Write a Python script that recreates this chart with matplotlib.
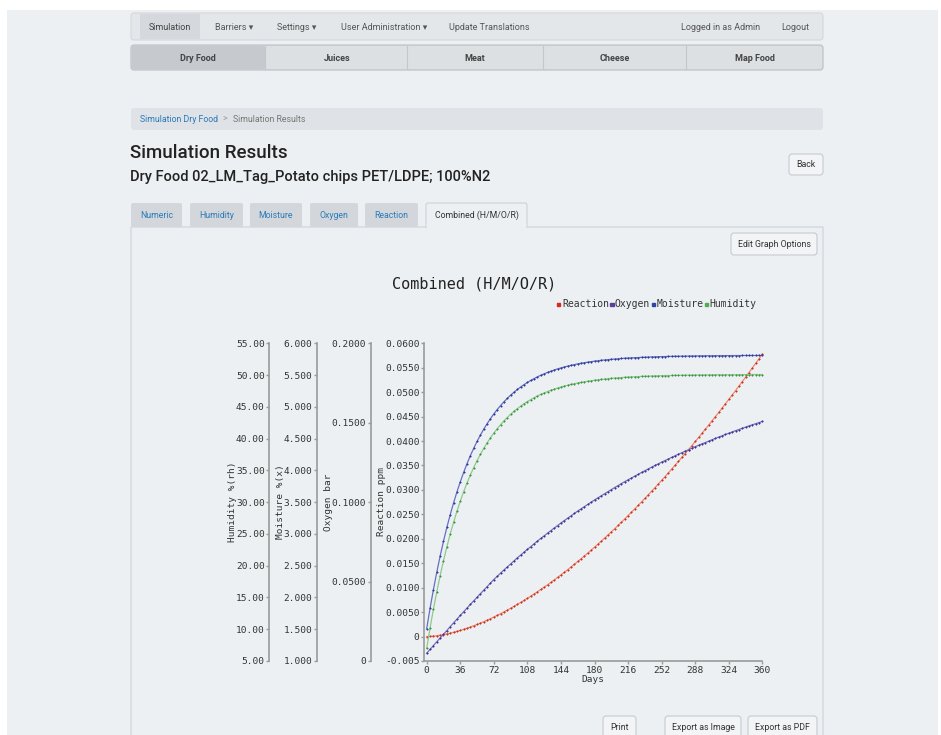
import matplotlib
matplotlib.use("Agg")
import matplotlib.pyplot as plt
from matplotlib.patches import FancyBboxPatch
import numpy as np

# ---- data ----
series_names = ["Reaction", "Oxygen", "Moisture", "Humidity"]

humidity = [7.00, 10.20, 13.16, 15.89, 18.43, 20.78, 22.95, 24.97, 26.83, 28.55,
            30.15, 31.63, 33.00, 34.27, 35.44, 36.53, 37.54, 38.47, 39.33, 40.13,
            40.87, 41.55, 42.19, 42.77, 43.32, 43.82, 44.29, 44.72, 45.12, 45.49,
            45.83, 46.14, 46.44, 46.71, 46.96, 47.19, 47.41, 47.61, 47.79, 47.96,
            48.12, 48.27, 48.40, 48.53, 48.65, 48.75, 48.85, 48.95, 49.03, 49.11,
            49.18, 49.25, 49.32, 49.37, 49.43, 49.48, 49.52, 49.57, 49.61, 49.64,
            49.68, 49.71, 49.74, 49.76, 49.79, 49.81, 49.83, 49.85, 49.87, 49.89,
            49.90, 49.92, 49.93, 49.94, 49.95, 49.96, 49.97, 49.98, 49.99, 49.99,
            50.01, 50.02, 50.02, 50.03, 50.03, 50.04, 50.04, 50.05, 50.05, 50.05,
            50.06, 50.06, 50.06, 50.07, 50.07, 50.07, 50.07, 50.08, 50.08, 50.08, 50.08]

moisture = [1.510, 1.829, 2.124, 2.397, 2.650, 2.885, 3.102, 3.302, 3.488, 3.660,
            3.820, 3.967, 4.104, 4.231, 4.348, 4.456, 4.556, 4.649, 4.735, 4.815,
            4.889, 4.957, 5.020, 5.079, 5.133, 5.183, 5.230, 5.273, 5.313, 5.350,
            5.384, 5.415, 5.445, 5.472, 5.497, 5.520, 5.542, 5.561, 5.580, 5.597,
            5.613, 5.627, 5.641, 5.653, 5.665, 5.676, 5.686, 5.695, 5.703, 5.711,
            5.719, 5.725, 5.732, 5.738, 5.743, 5.748, 5.752, 5.757, 5.761, 5.764,
            5.768, 5.771, 5.774, 5.776, 5.779, 5.781, 5.783, 5.785, 5.787, 5.789,
            5.790, 5.792, 5.793, 5.794, 5.795, 5.796, 5.797, 5.798, 5.799, 5.800,
            5.801, 5.802, 5.802, 5.803, 5.804, 5.804, 5.805, 5.805, 5.806, 5.806,
            5.806, 5.807, 5.807, 5.807, 5.808, 5.808, 5.808, 5.808, 5.808, 5.809, 5.809]

oxygen = [0.0049, 0.0073, 0.0097, 0.0121, 0.0145, 0.0168, 0.0192, 0.0216, 0.0240, 0.0263,
          0.0287, 0.0310, 0.0333, 0.0356, 0.0379, 0.0401, 0.0424, 0.0446, 0.0468, 0.0491,
          0.0513, 0.0533, 0.0553, 0.0573, 0.0592, 0.0611, 0.0630, 0.0649, 0.0667, 0.0685,
          0.0703, 0.0720, 0.0738, 0.0755, 0.0772, 0.0788, 0.0805, 0.0821, 0.0837, 0.0853,
          0.0869, 0.0884, 0.0899, 0.0914, 0.0929, 0.0944, 0.0958, 0.0972, 0.0986, 0.1000,
          0.1014, 0.1027, 0.1040, 0.1053, 0.1066, 0.1079, 0.1092, 0.1104, 0.1117, 0.1129,
          0.1141, 0.1152, 0.1164, 0.1175, 0.1187, 0.1198, 0.1209, 0.1220, 0.1231, 0.1241,
          0.1252, 0.1262, 0.1272, 0.1282, 0.1292, 0.1302, 0.1311, 0.1321, 0.1330, 0.1340,
          0.1349, 0.1358, 0.1367, 0.1375, 0.1384, 0.1393, 0.1401, 0.1410, 0.1418, 0.1426,
          0.1434, 0.1442, 0.1450, 0.1457, 0.1465, 0.1472, 0.1480, 0.1487, 0.1494, 0.1501, 0.1508]

reaction = [0.0, 0.00003, 0.00009, 0.00017, 0.00028, 0.00040, 0.00054, 0.00070, 0.00087, 0.00106,
            0.00125, 0.00148, 0.00171, 0.00195, 0.00221, 0.00248, 0.00276, 0.00305, 0.00335, 0.00367,
            0.00400, 0.00433, 0.00468, 0.00504, 0.00541, 0.00579, 0.00618, 0.00658, 0.00698, 0.00740,
            0.00783, 0.00827, 0.00872, 0.00918, 0.00964, 0.01012, 0.01060, 0.01109, 0.01160, 0.01211,
            0.01263, 0.01316, 0.01369, 0.01424, 0.01479, 0.01536, 0.01593, 0.01651, 0.01709, 0.01769,
            0.01829, 0.01890, 0.01952, 0.02015, 0.02078, 0.02143, 0.02208, 0.02273, 0.02340, 0.02407,
            0.02476, 0.02544, 0.02614, 0.02685, 0.02755, 0.02827, 0.02900, 0.02973, 0.03047, 0.03122,
            0.03197, 0.03273, 0.03350, 0.03428, 0.03506, 0.03585, 0.03665, 0.03745, 0.03826, 0.03908,
            0.03991, 0.04074, 0.04157, 0.04242, 0.04327, 0.04413, 0.04500, 0.04587, 0.04675, 0.04764,
            0.04853, 0.04943, 0.05033, 0.05124, 0.05216, 0.05309, 0.05402, 0.05495, 0.05590, 0.05684, 0.05780]

# samples every 3.6 days over 360 days
days = np.linspace(0, 360, len(reaction))
day_ticks = [0, 36, 72, 108, 144, 180, 216, 252, 288, 324, 360]

hum_ticks = [5, 10, 15, 20, 25, 30, 35, 40, 45, 50, 55]
hum_labels = ["5.00", "10.00", "15.00", "20.00", "25.00", "30.00", "35.00", "40.00", "45.00", "50.00", "55.00"]
moi_ticks = [1.0, 1.5, 2.0, 2.5, 3.0, 3.5, 4.0, 4.5, 5.0, 5.5, 6.0]
moi_labels = ["1.000", "1.500", "2.000", "2.500", "3.000", "3.500", "4.000", "4.500", "5.000", "5.500", "6.000"]
oxy_ticks = [0, 0.05, 0.10, 0.15, 0.20]
oxy_labels = ["0", "0.0500", "0.1000", "0.1500", "0.2000"]
rea_ticks = [-0.005, 0, 0.005, 0.010, 0.015, 0.020, 0.025, 0.030, 0.035, 0.040, 0.045, 0.050, 0.055, 0.060]
rea_labels = ["-0.005", "0", "0.0050", "0.0100", "0.0150", "0.0200", "0.0250", "0.0300",
              "0.0350", "0.0400", "0.0450", "0.0500", "0.0550", "0.0600"]

nav_items = ["Simulation", "Barriers \u25be", "Settings \u25be", "User Administration \u25be", "Update Translations"]
food_tabs = ["Dry Food", "Juices", "Meat", "Cheese", "Map Food"]
result_tabs = ["Numeric", "Humidity", "Moisture", "Oxygen", "Reaction", "Combined (H/M/O/R)"]

W, H = 941, 735
PAGE = "#edf0f3"
BORDER = "#cdd1d5"
LINK = "#2b7bb9"
UI_FONT = ["Roboto", "DejaVu Sans"]
MONO = "DejaVu Sans Mono"

fig = plt.figure(figsize=(W / 100, H / 100), dpi=100)
fig.patch.set_facecolor("white")

ui = fig.add_axes([0, 0, 1, 1])
ui.set_xlim(0, W)
ui.set_ylim(H, 0)
ui.axis("off")


def box(x0, y0, x1, y1, fc, ec="none", r=0, lw=0.8, z=1):
    ui.add_patch(FancyBboxPatch((x0, y0), x1 - x0, y1 - y0,
                                boxstyle="round,pad=0,rounding_size=%s" % r,
                                fc=fc, ec=ec, lw=lw, zorder=z))


def txt(x, y, s, size=6.5, color="#555555", ha="left", weight="normal", family=UI_FONT, z=5, rot=0):
    ui.text(x, y, s, fontsize=size, color=color, ha=ha, va="center", rotation=rot,
            fontweight=weight, family=family, zorder=z)


# page background
box(7, 10, 938, H, PAGE, z=0)

# top navbar
box(131, 13, 823, 40, "#e4e7ea", ec="#d5d8db", r=3)
box(140, 14, 200, 39, "#d5d8dc", z=2)
nav_x = [170, 215, 277, 341, 449]
for i, (x, s) in enumerate(zip(nav_x, nav_items)):
    txt(x, 27, s, ha="center" if i == 0 else "left", color="#444444" if i == 0 else "#555555")
txt(681, 27, "Logged in as Admin")
txt(781, 27, "Logout")

# food category bar
box(131, 45, 823, 70, "#dde0e3", ec="#b9bdc1", r=3)
box(132, 46, 265, 69, "#c6cacf", r=2, z=2)
for x in [265, 407, 543, 686]:
    ui.plot([x, x], [46, 69], color="#c3c7cb", lw=0.8, zorder=3)
for x, s in zip([198, 337, 475, 615, 755], food_tabs):
    txt(x, 58, s, ha="center", color="#444444", weight="bold")

# breadcrumb
box(131, 108, 823, 130, "#dfe2e6", r=3)
txt(140, 119, "Simulation Dry Food", color=LINK, size=6.3)
txt(222, 119, ">", color="#999999", size=6.3)
txt(233, 119, "Simulation Results", color="#777777", size=6.3)

# headings
txt(130, 153, "Simulation Results", size=13.5, color="#222222", weight="medium")
txt(130, 177, "Dry Food 02_LM_Tag_Potato chips PET/LDPE; 100%N2", size=10.5,
    color="#222222", weight="medium")
box(789, 154, 823, 175, "#f3f4f6", ec="#c6cacf", r=3)
txt(806, 164.5, "Back", ha="center", color="#333333", size=6.3)

# panel and result tabs
box(131, 227, 823, 760, PAGE, ec=BORDER, z=1)
tab_x = [(131, 182), (190, 243), (250, 302), (310, 358), (365, 418), (426, 527)]
for (x0, x1), s in zip(tab_x, result_tabs):
    active = s.startswith("Combined")
    if active:
        box(x0, 203, x1, 228, PAGE, ec=BORDER, r=2, z=2)
        box(x0 + 0.6, 224, x1 - 0.6, 229, PAGE, z=3)
    else:
        box(x0, 203, x1, 227, "#d3d7db", r=2, z=2)
    txt((x0 + x1) / 2, 215.5, s, ha="center", size=6.3,
        color="#333333" if active else LINK)

box(731, 233, 817, 255, "#f3f4f6", ec="#c6cacf", r=3, z=2)
txt(774, 244, "Edit Graph Options", ha="center", color="#333333", size=6.3)

for (x0, x1), s in zip([(603, 636), (665, 741), (748, 817)],
                       ["Print", "Export as Image", "Export as PDF"]):
    box(x0, 716, x1, 745, "#f3f4f6", ec="#c6cacf", r=3, z=2)
    txt((x0 + x1) / 2, 727, s, ha="center", color="#333333", size=6.3)

# ---- chart ----
txt(474, 284, "Combined (H/M/O/R)", size=11, color="#222222", ha="center", family=MONO)

line_cols = {"Reaction": "#ee8a74", "Oxygen": "#7a70bb", "Moisture": "#6670c0", "Humidity": "#8bcb8b"}
mark_cols = {"Reaction": "#c8321e", "Oxygen": "#3f3290", "Moisture": "#2d3a98", "Humidity": "#3f9443"}
legend_sq = {"Reaction": "#d9291c", "Oxygen": "#5b3fa0", "Moisture": "#2e44a6", "Humidity": "#4caf50"}

# legend, monospace cells of ~5.9 px
cx = 556.0
cw = 5.9
for name in series_names:
    ui.add_patch(plt.Rectangle((cx + 1.2, 302.5), 3.2, 3.2, color=legend_sq[name], zorder=5))
    cx += cw
    txt(cx, 304, name, size=7, color="#333333", family=MONO)
    cx += cw * len(name)

ax_left, ax_right, ax_top, ax_bot = 424.0, 762.4, 343.3, 661.0
rect = [ax_left / W, 1 - ax_bot / H, (ax_right - ax_left) / W, (ax_bot - ax_top) / H]
xlim = (-2.9, 360)
spine_col = "#9a9a9a"

ax_r = fig.add_axes(rect)
ax_o = fig.add_axes(rect)
ax_m = fig.add_axes(rect)
ax_h = fig.add_axes(rect)

axis_specs = [
    (ax_h, (5, 55), hum_ticks, hum_labels, -0.4572, "Humidity %(rh)", 232.5),
    (ax_m, (1, 6), moi_ticks, moi_labels, -0.3162, "Moisture %(x)", 281.0),
    (ax_o, (0, 0.2), oxy_ticks, oxy_labels, -0.1575, "Oxygen bar", 328.5),
    (ax_r, (-0.005, 0.06), rea_ticks, rea_labels, 0.0, "Reaction ppm", 381.5),
]
for ax, ylim, ticks, labels, pos, title, lx in axis_specs:
    ax.set_facecolor("none")
    ax.set_xlim(*xlim)
    ax.set_ylim(*ylim)
    for side in ["top", "right", "bottom"]:
        ax.spines[side].set_visible(False)
    ax.spines["left"].set_position(("axes", pos))
    ax.spines["left"].set_color(spine_col)
    ax.spines["left"].set_linewidth(1.2)
    ax.set_yticks(ticks)
    ax.set_yticklabels(labels, family=MONO)
    ax.tick_params(axis="y", direction="out", length=2.5, width=1, color=spine_col,
                   labelsize=6.8, labelcolor="#333333", pad=0.8)
    ax.set_xticks([])
    txt(lx, 502, title, size=6.8, color="#333333", family=MONO, ha="center", rot=90)

ax_r.spines["bottom"].set_visible(True)
ax_r.spines["bottom"].set_color(spine_col)
ax_r.spines["bottom"].set_linewidth(1.2)
ax_r.set_xticks(day_ticks)
ax_r.set_xticklabels([str(d) for d in day_ticks], family=MONO)
ax_r.tick_params(axis="x", direction="out", length=2.5, width=1, color=spine_col,
                 labelsize=6.8, labelcolor="#333333", pad=0.8)
ax_r.set_xlabel("Days", family=MONO, fontsize=6.8, color="#333333", labelpad=0.3)

series = [(ax_h, humidity, "Humidity"), (ax_m, moisture, "Moisture"),
          (ax_o, oxygen, "Oxygen"), (ax_r, reaction, "Reaction")]
for ax, vals, name in series:
    ax.plot(days, vals, color=line_cols[name], lw=0.9, marker="+", ms=2.0, mew=0.8,
            mec=mark_cols[name], clip_on=False)

fig.savefig("out.png", dpi=100, facecolor=fig.get_facecolor())
